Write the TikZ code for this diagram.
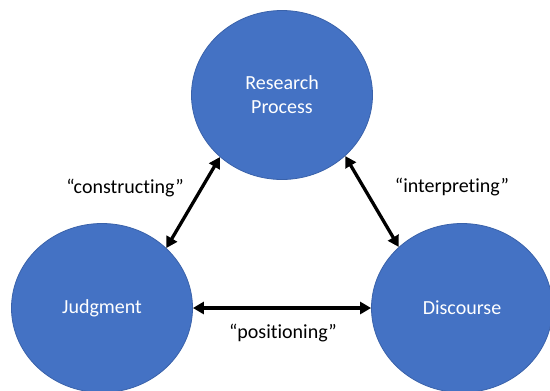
\documentclass[tikz,border=0pt]{standalone}
\usepackage{fontspec}
\setmainfont{Carlito}[Ligatures=NoCommon]
\usetikzlibrary{shapes.geometric,arrows.meta}
\definecolor{blobfill}{HTML}{4472C4}
\definecolor{blobedge}{HTML}{3A62AA}
\begin{document}
\begin{tikzpicture}[x=1pt,y=-1pt,
  blob/.style={ellipse, draw=blobedge, line width=0.8pt, fill=blobfill,
    minimum width=181pt, minimum height=169pt, inner sep=0pt,
    text=white, font=\fontsize{20}{24}\selectfont, align=center},
  link/.style={{Triangle[length=11pt,width=12pt]}-{Triangle[length=11pt,width=12pt]},
    line width=3.3pt, black},
  tag/.style={font=\fontsize{20}{24}\selectfont, text=black}]
\useasboundingbox (0,0) rectangle (550,391);

% the three concepts
\node[blob] (R) at (282,95) {Research\\Process};
\node[blob] (J) at (102,308) {Judgment};
\node[blob] (D) at (462,308) {Discourse};

% two-way relations between them
\draw[link] (J.43.6) -- (R.225.5);
\draw[link] (R.-44) -- (D.136.4);
\draw[link] (J.east) -- (D.west);

% relation labels
\node[tag] (lc) at (125,188) {“constructing”};
\node[tag] (li) at (452,187) {“interpreting”};
\node[tag] (lp) at (283,333) {“positioning”};
\end{tikzpicture}
\end{document}
